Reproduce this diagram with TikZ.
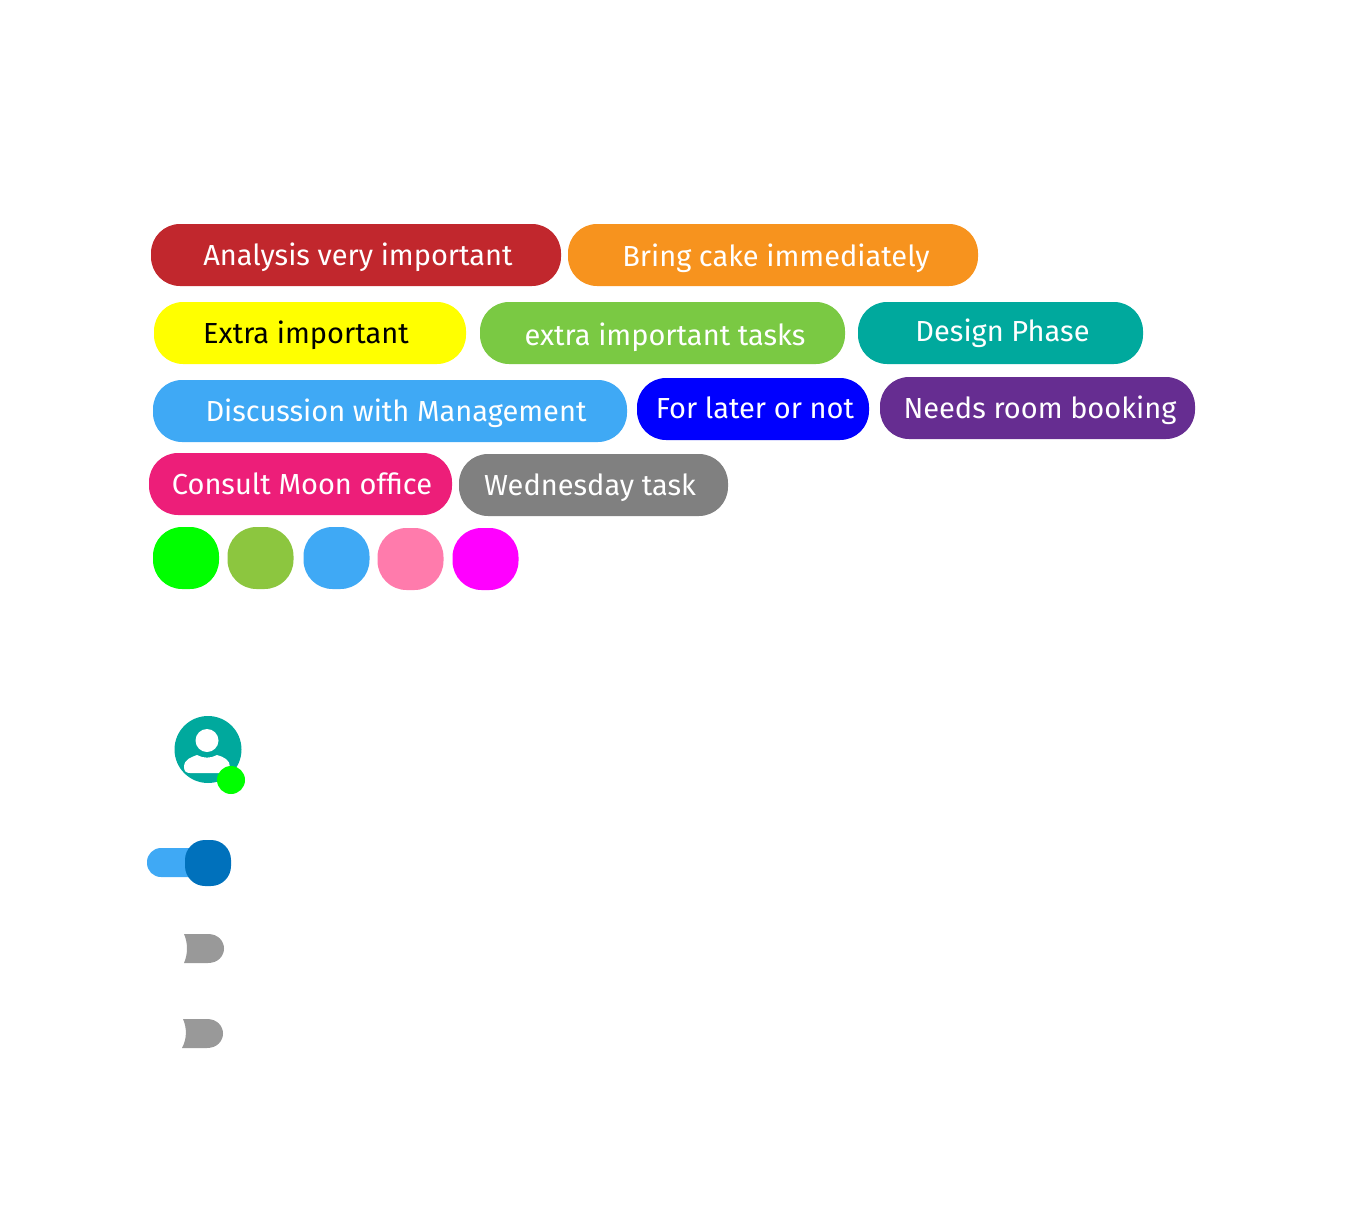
\documentclass[tikz,border=0pt]{standalone}
\usepackage{fontspec}
\setmainfont{Fira Sans}
\definecolor{tagred}{HTML}{C1272D}
\definecolor{tagorange}{HTML}{F7931E}
\definecolor{tagyellow}{HTML}{FFFF00}
\definecolor{taggreen}{HTML}{7AC943}
\definecolor{tagteal}{HTML}{00A99D}
\definecolor{tagblue}{HTML}{3FA9F5}
\definecolor{tagpurple}{HTML}{662D91}
\definecolor{tagpink}{HTML}{ED1E79}
\definecolor{dotlime}{HTML}{00FF00}
\definecolor{dotolive}{HTML}{8CC63F}
\definecolor{dotrose}{HTML}{FF7BAC}
\definecolor{dotviolet}{HTML}{FF00FF}
\definecolor{knobblue}{HTML}{0071BC}
\tikzset{
    tag/.style={fill=#1,text=white,rounded corners=29pt,inner sep=0pt,minimum height=62pt,text height=24pt,text depth=4pt,font=\fontsize{29}{31}\selectfont},
    dot/.style={fill=#1,rounded corners=29pt,inner sep=0pt,minimum width=66pt,minimum height=62pt},
    stub/.style={fill=black!40}
}
\begin{document}
\begin{tikzpicture}[x=1pt,y=-1pt]
    \useasboundingbox (0,0) rectangle (1371,1212);
    % tags
    \node[tag=tagred,minimum width=410pt] (analysis) at (356,255) {\hspace*{4pt}Analysis very important};
    \node[tag=tagorange,minimum width=410pt] (cake) at (773,255) {\hspace*{6pt}\raisebox{-1pt}{Bring cake immediately}};
    \node[tag=tagyellow,text=black,minimum width=312pt] (extra) at (310,333) {Extra important\hspace*{8pt}};
    \node[tag=taggreen,minimum width=365pt] (tasks) at (662.5,333) {\hspace*{5pt}\raisebox{-2pt}{extra important tasks}};
    \node[tag=tagteal,minimum width=285pt] (design) at (1000.5,333) {\hspace*{4pt}\raisebox{2pt}{Design Phase}};
    \node[tag=tagblue,minimum width=474pt] (discussion) at (390,411) {\hspace*{12pt}Discussion with Management};
    \node[tag=blue,minimum width=232pt] (later) at (753,409) {\hspace*{4pt}\raisebox{1pt}{For later or not}};
    \node[tag=tagpurple,minimum width=315pt] (room) at (1037.5,408) {\hspace*{5pt}Needs room booking};
    \node[tag=tagpink,minimum width=303pt] (moon) at (300.5,484) {\hspace*{3pt}Consult Moon office};
    \node[tag=gray,minimum width=269pt] (wednesday) at (593.5,485) {Wednesday task\hspace*{7pt}};
    % dots
    \foreach \col/\x/\y in {dotlime/186/558,dotolive/260.5/558,tagblue/336.5/558,dotrose/410.5/559,dotviolet/485.5/559}
        \node[dot=\col] (\col) at (\x,\y) {};
    % avatar
    \node[circle,fill=tagteal,minimum size=67pt,inner sep=0pt] (avatar) at (208,749.5) {};
    \node[circle,fill=white,minimum size=23pt,inner sep=0pt] (head) at (207,740.5) {};
    \fill[white] (184,767) .. controls (184,759) and (192,757) .. (197,755)
        .. controls (203,758.5) and (211,758.5) .. (217,755)
        .. controls (224,757) and (230,760) .. (230,767)
        .. controls (230,771) and (228,773) .. (224,773) -- (190,773)
        .. controls (186,773) and (184,771) .. (184,767) -- cycle;
    \node[circle,fill=dotlime,minimum size=28pt,inner sep=0pt] (status) at (231,780) {};
    % switch
    \fill[tagblue,rounded corners=14pt] (147,848) rectangle (205,877);
    \node[fill=knobblue,rounded corners=20pt,minimum width=46pt,minimum height=46pt,inner sep=0pt] (knob) at (208,863) {};
    % stubs
    \fill[stub] (184,934) -- (208,934) .. controls (218,934) and (224,941) .. (224,948.5)
        .. controls (224,956) and (218,963) .. (208,963) -- (184,963)
        .. controls (188,954) and (188,943) .. (184,934) -- cycle;
    \fill[stub] (183,1019) -- (207,1019) .. controls (217,1019) and (223,1026) .. (223,1033.5)
        .. controls (223,1041) and (217,1048) .. (207,1048) -- (182,1048)
        .. controls (187,1039) and (187,1028) .. (183,1019) -- cycle;
\end{tikzpicture}
\end{document}
